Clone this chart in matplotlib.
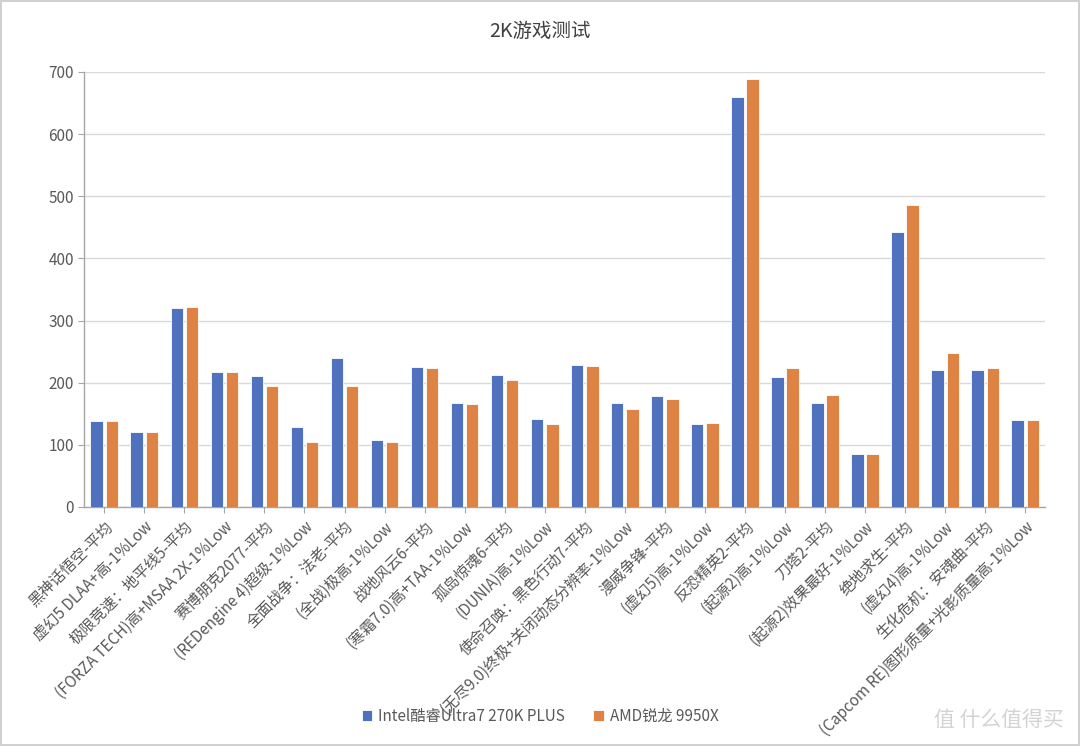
import numpy as np
import matplotlib
matplotlib.use("Agg")
import matplotlib.pyplot as plt

plt.rcParams['font.family'] = ['Noto Sans CJK SC', 'DejaVu Sans']

labels = [
    "黑神话悟空-平均",
    "虚幻5 DLAA+高-1%Low",
    "极限竞速：地平线5-平均",
    "(FORZA TECH)高+MSAA 2X-1%Low",
    "赛博朋克2077-平均",
    "(REDengine 4)超级-1%Low",
    "全面战争：法老-平均",
    "(全战)极高-1%Low",
    "战地风云6-平均",
    "(寒霜7.0)高+TAA-1%Low",
    "孤岛惊魂6-平均",
    "(DUNIA)高-1%Low",
    "使命召唤：黑色行动7-平均",
    "(无尽9.0)终极+关闭动态分辨率-1%Low",
    "漫威争锋-平均",
    "(虚幻5)高-1%Low",
    "反恐精英2-平均",
    "(起源2)高-1%Low",
    "刀塔2-平均",
    "(起源2)效果最好-1%Low",
    "绝地求生-平均",
    "(虚幻4)高-1%Low",
    "生化危机：安魂曲-平均",
    "(Capcom RE)图形质量+光影质量高-1%Low",
]
intel = [138, 120, 320, 218, 210, 128, 240, 107, 225, 168, 213, 142,
         229, 167, 179, 134, 659, 209, 167, 86, 443, 220, 221, 140]
amd = [138, 120, 322, 218, 194, 105, 194, 104, 224, 166, 205, 134,
       227, 158, 173, 135, 689, 224, 180, 85, 486, 248, 224, 140]
series_names = ["Intel酷睿Ultra7 270K PLUS", "AMD锐龙 9950X"]

blue = "#4F71BE"
orange = "#DE8344"
txt = "#595959"

fig = plt.figure(figsize=(10.8, 7.46), dpi=100)
fig.patch.set_edgecolor("#D0D0D0")
fig.patch.set_linewidth(1.5)
ax = fig.add_axes([0.078, 0.3204, 0.8898, 0.5831])

x = np.arange(len(labels))
w = 0.31
ax.bar(x - 0.19, intel, w, color=blue, edgecolor="white", linewidth=0.6,
       label=series_names[0], zorder=3)
ax.bar(x + 0.19, amd, w, color=orange, edgecolor="white", linewidth=0.6,
       label=series_names[1], zorder=3)

ax.set_xlim(-0.5, len(labels) - 0.5)
ax.set_ylim(0, 700)
ax.set_yticks(np.arange(0, 701, 100))
ax.grid(axis="y", color="#D9D9D9", linewidth=1, zorder=0)
for s in ["top", "right"]:
    ax.spines[s].set_visible(False)
for s in ["left", "bottom"]:
    ax.spines[s].set_color("#A6A6A6")
    ax.spines[s].set_linewidth(1)

ax.set_xticks(x)
ax.set_xticklabels(labels, rotation=45, ha="right", rotation_mode="anchor",
                   fontsize=11, color=txt)
ax.tick_params(axis="x", length=4, color="#A6A6A6", pad=4)
ax.tick_params(axis="y", length=4, color="#A6A6A6", labelsize=11,
               labelcolor=txt)

fig.text(0.5, 0.958, "2K游戏测试", ha="center", va="center", fontsize=14,
         color="#404040")

fig.legend(loc="center", bbox_to_anchor=(0.5, 0.04), ncol=2, frameon=False,
           fontsize=11, handlelength=0.7, handleheight=0.7, columnspacing=1.8,
           handletextpad=0.4, labelcolor=txt)

fig.text(0.985, 0.035, "值 什么值得买", ha="right", va="center", fontsize=15,
         color="#C8C8C8", alpha=0.8)

fig.savefig("out.png", dpi=100)
